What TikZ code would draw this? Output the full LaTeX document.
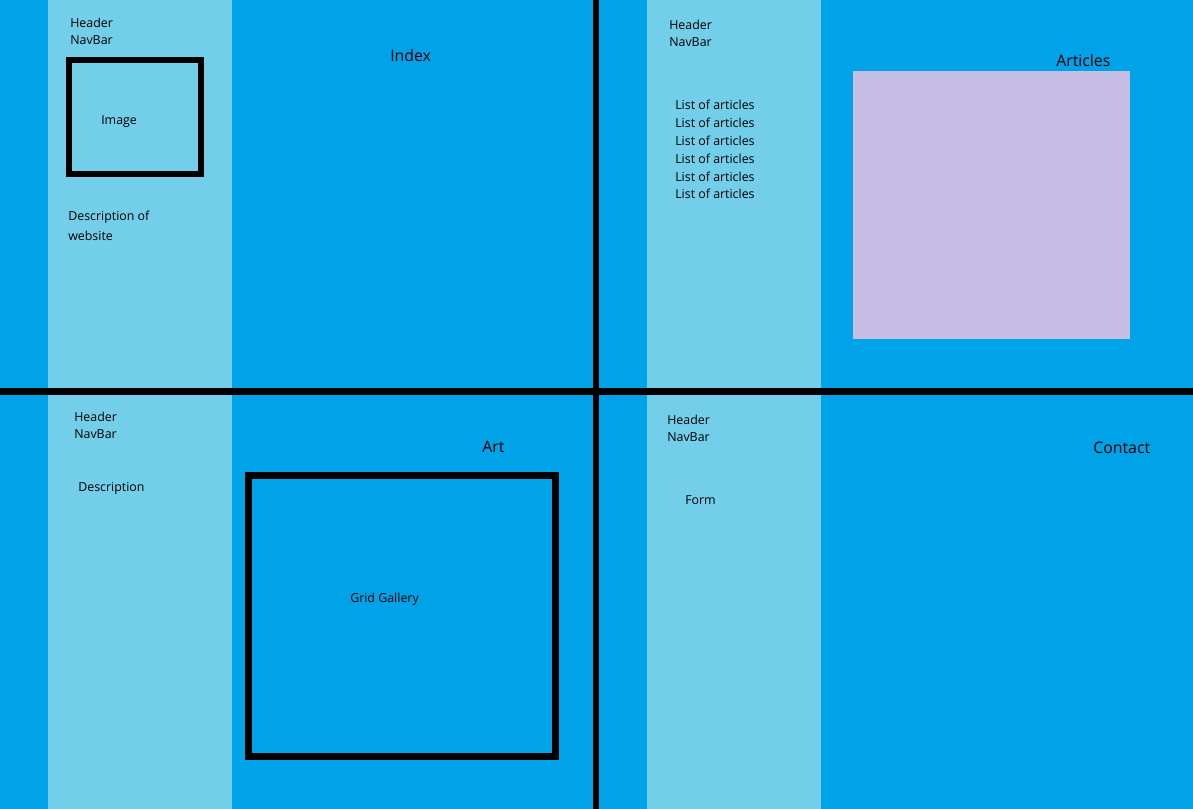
\documentclass[tikz,border=0pt]{standalone}
\usepackage{xcolor}
\usepackage{fontspec}
\setmainfont{Open Sans}
\usepackage{tikz}

\definecolor{pageblue}{RGB}{0,162,232}
\definecolor{sidepane}{RGB}{115,207,233}
\definecolor{lavbox}{RGB}{199,190,230}

\begin{document}
\begin{tikzpicture}[x=0.75pt,y=0.75pt,yscale=-1,xscale=1,
    smalltxt/.style={anchor=west,inner sep=0.75pt,font=\fontsize{9.3}{11}\selectfont},
    titletxt/.style={anchor=west,inner sep=0.75pt,font=\fontsize{11.9}{14}\selectfont}]
            \useasboundingbox (0,0) rectangle (1193,809);

            %Shape: Rectangle (page)
            \fill [pageblue] (0,0) rectangle (1193,809) ;
            %Shape: Rectangle (left panes)
            \fill [sidepane] (48,0) rectangle (232,809) ;
            \fill [sidepane] (647,0) rectangle (821,809) ;
            %Shape: Rectangle (articles box)
            \fill [lavbox] (853,71) rectangle (1130,339) ;
            %Shape: Rectangle (image)
            \draw [line width=4.5] (69.25,60.25) rectangle (200.75,173.75) ;
            %Shape: Rectangle (grid gallery)
            \draw [line width=5] (248.5,475.5) rectangle (555.5,756.5) ;
            %Straight Lines (dividers)
            \draw [line width=5] (0,391.5) -- (1193,391.5) ;
            \draw [line width=5] (596,0) -- (596,809) ;

            % Text Node
            \draw (69,22.5) node [smalltxt] (hdrA) {Header};
            % Text Node
            \draw (69,40.5) node [smalltxt] (navA) {NavBar};
            % Text Node
            \draw (100,121.5) node [smalltxt] (imgA) {Image};
            % Text Node
            \draw (67,217.5) node [smalltxt] (descA) {Description of};
            % Text Node
            \draw (67,235.5) node [smalltxt] (webA) {website};
            % Text Node
            \draw (389,56) node [titletxt] (titleA) {Index};

            % Text Node
            \draw (668,24.5) node [smalltxt] (hdrB) {Header};
            % Text Node
            \draw (668,42.5) node [smalltxt] (navB) {NavBar};
            % Text Node
            \draw (674,104.5) node [smalltxt] (listB1) {List of articles};
            % Text Node
            \draw (674,122.5) node [smalltxt] (listB2) {List of articles};
            % Text Node
            \draw (674,140.5) node [smalltxt] (listB3) {List of articles};
            % Text Node
            \draw (674,158.5) node [smalltxt] (listB4) {List of articles};
            % Text Node
            \draw (674,176.5) node [smalltxt] (listB5) {List of articles};
            % Text Node
            \draw (674,193.5) node [smalltxt] (listB6) {List of articles};
            % Text Node
            \draw (1055,61) node [titletxt] (titleB) {Articles};

            % Text Node
            \draw (73,416.5) node [smalltxt] (hdrC) {Header};
            % Text Node
            \draw (73,434.5) node [smalltxt] (navC) {NavBar};
            % Text Node
            \draw (77,488.5) node [smalltxt] (descC) {Description};
            % Text Node
            \draw (349,599.5) node [smalltxt] (gridC) {Grid Gallery};
            % Text Node
            \draw (481,447) node [titletxt] (titleC) {Art};

            % Text Node
            \draw (666,419.5) node [smalltxt] (hdrD) {Header};
            % Text Node
            \draw (666,437.5) node [smalltxt] (navD) {NavBar};
            % Text Node
            \draw (684,500.5) node [smalltxt] (formD) {Form};
            % Text Node
            \draw (1092,448) node [titletxt] (titleD) {Contact};

\end{tikzpicture}
\end{document}
